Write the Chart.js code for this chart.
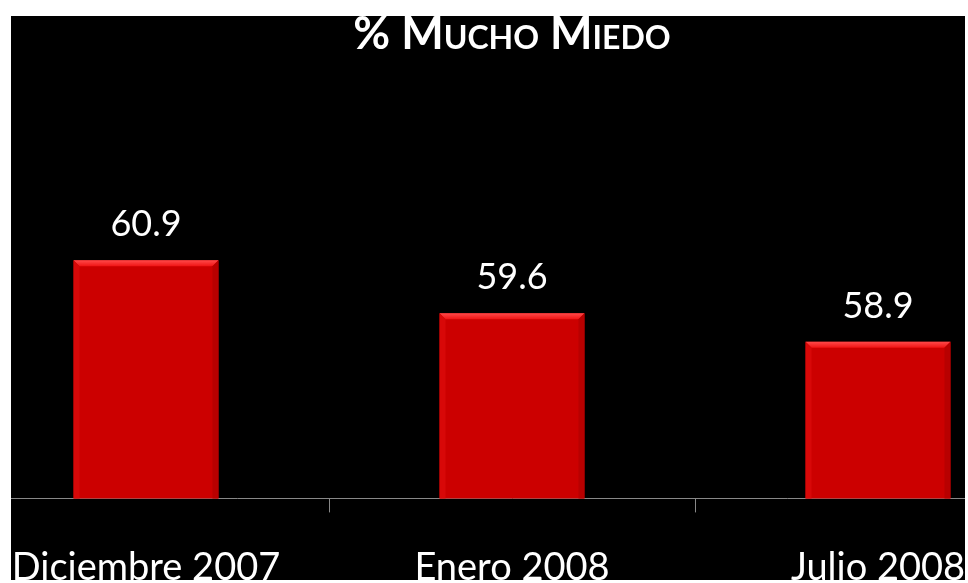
<!DOCTYPE html>
<html>
<head>
<meta charset="utf-8">
<title>% Mucho Miedo</title>
<script src="https://cdn.jsdelivr.net/npm/chart.js@4/dist/chart.umd.min.js"></script>
<style>
    html, body { margin: 0; padding: 0; background: #fff; }
    body { width: 968px; height: 583px; position: relative; overflow: hidden; }
    #slide { position: absolute; left: 11px; top: 16px; width: 954px; height: 564px; background: #000; overflow: hidden; }
    #chart { position: absolute; left: -48px; top: -10px; }
</style>
</head>
<body>
<div id="slide">
    <canvas id="chart" width="1098" height="633"></canvas>
</div>
<script>
// Datos del gráfico
const periodos = ['Diciembre 2007', 'Enero 2008', 'Julio 2008'];
const muchoMiedo = [60.9, 59.6, 58.9];
const titulo = '% Mucho Miedo';
const yMin = 55.05;
const yMax = 65.6;

// Etiquetas con el valor encima de cada barra
const valueLabels = {
    id: 'valueLabels',
    afterDatasetsDraw(chart) {
        const ctx = chart.ctx;
        ctx.save();
        ctx.fillStyle = '#fff';
        ctx.font = '36px Lato';
        ctx.textAlign = 'center';
        ctx.textBaseline = 'alphabetic';
        chart.getDatasetMeta(0).data.forEach((bar, i) => {
            ctx.fillText(muchoMiedo[i].toFixed(1), bar.x, bar.y - 24);
        });
        ctx.restore();
    }
};

// Efecto biselado de las barras
const bevel = {
    id: 'bevel',
    afterDatasetsDraw(chart) {
        const ctx = chart.ctx;
        const b = 6;
        ctx.save();
        chart.getDatasetMeta(0).data.forEach(bar => {
            const l = bar.x - bar.width / 2;
            const r = bar.x + bar.width / 2;
            const t = bar.y;
            const base = Math.min(bar.base, chart.chartArea.bottom);
            // arriba
            const g = ctx.createLinearGradient(0, t, 0, t + b);
            g.addColorStop(0, '#ff4a4a');
            g.addColorStop(1, '#f01414');
            ctx.fillStyle = g;
            ctx.beginPath();
            ctx.moveTo(l, t); ctx.lineTo(r, t); ctx.lineTo(r - b, t + b); ctx.lineTo(l + b, t + b);
            ctx.closePath(); ctx.fill();
            // izquierda
            ctx.fillStyle = '#d80808';
            ctx.beginPath();
            ctx.moveTo(l, t); ctx.lineTo(l + b, t + b); ctx.lineTo(l + b, base); ctx.lineTo(l, base);
            ctx.closePath(); ctx.fill();
            // derecha
            ctx.fillStyle = '#b80000';
            ctx.beginPath();
            ctx.moveTo(r, t); ctx.lineTo(r - b, t + b); ctx.lineTo(r - b, base); ctx.lineTo(r, base);
            ctx.closePath(); ctx.fill();
        });
        ctx.restore();
    }
};

const ctx = document.getElementById('chart').getContext('2d');
new Chart(ctx, {
    type: 'bar',
    data: {
        labels: periodos,
        datasets: [{
            label: titulo,
            data: muchoMiedo,
            backgroundColor: '#cc0000',
            borderWidth: 0,
            categoryPercentage: 1,
            barPercentage: 0.396
        }]
    },
    options: {
        responsive: false,
        animation: false,
        layout: { padding: { top: 0, bottom: 15, left: 0, right: 0 } },
        plugins: {
            legend: { display: false },
            tooltip: { enabled: false },
            title: {
                display: true,
                text: titulo,
                color: '#fff',
                font: { family: 'Lato', size: 45, weight: 'small-caps bold', lineHeight: 1.2 },
                padding: { top: 1, bottom: 8 }
            }
        },
        scales: {
            x: {
                grid: {
                    display: true,
                    drawOnChartArea: false,
                    drawTicks: true,
                    tickLength: 14,
                    color: '#888'
                },
                border: { display: true, color: '#888', width: 1 },
                ticks: {
                    color: '#fff',
                    padding: 33,
                    maxRotation: 0,
                    autoSkip: false,
                    font: { family: 'Lato', size: 38, lineHeight: 1.2 }
                }
            },
            y: {
                display: false,
                min: yMin,
                max: yMax
            }
        }
    },
    plugins: [valueLabels, bevel]
});
</script>
</body>
</html>
